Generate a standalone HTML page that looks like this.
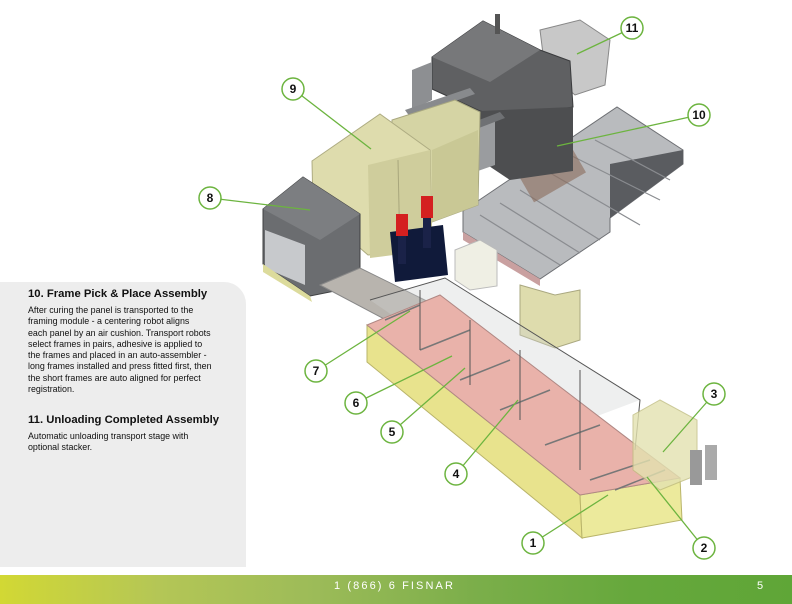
<!DOCTYPE html>
<html><head><meta charset="utf-8"><style>
html,body{margin:0;padding:0;background:#fff;width:792px;height:604px;overflow:hidden;font-family:"Liberation Sans",Arial,sans-serif}
#panel{position:absolute;left:0;top:282px;width:246px;height:285px;background:#ededed;border-top-right-radius:22px}
#panel h2{font-size:11.3px;font-weight:bold;color:#111;margin:0;position:absolute;left:28px;white-space:nowrap}
#panel p{font-size:8.9px;line-height:11.3px;color:#111;margin:0;position:absolute;left:28px;white-space:nowrap}
#footer{position:absolute;left:0;top:575px;width:792px;height:29px;background:linear-gradient(90deg,#d2d834 0%,#b4c656 20%,#9cbb58 40%,#7bae4a 60%,#66a83c 80%,#5fa637 100%)}
#footer span{position:absolute;color:#fff;font-size:11px;letter-spacing:2.1px;top:5px}
svg{position:absolute;left:0;top:0}
</style></head><body>
<svg width="792" height="604" viewBox="0 0 792 604">
<polygon points="463,211 617,107 683,150 683,164 610,218 610,232 540,279 463,232" fill="#b9bbbe" stroke="#6d6f73" stroke-width="1"/>
<polygon points="610,164 683,150 683,164 610,218" fill="#5a5c60"/>
<polygon points="463,232 540,279 540,286 463,240" fill="#c9a0a0"/>
<g stroke="#8a8c90" stroke-width="1.2">
<line x1="480" y1="215" x2="560" y2="265"/><line x1="500" y1="203" x2="580" y2="253"/><line x1="520" y1="190" x2="600" y2="240"/>
<line x1="545" y1="170" x2="640" y2="225"/><line x1="570" y1="155" x2="660" y2="200"/><line x1="595" y1="140" x2="670" y2="180"/>
</g>
<rect x="520" y="150" width="60" height="40" fill="#8a6a5a" opacity=".6" transform="rotate(-30 550 170)"/>
<polygon points="540,30 580,20 610,40 605,85 575,95 545,70" fill="#c8c8c8" stroke="#888"/>
<polygon points="432,57 483,21 540,50 570,61 573,107 510,118 480,111 432,89" fill="#5f6062" stroke="#3a3b3d"/>
<polygon points="432,57 483,21 540,50 490,82" fill="#77787a"/>
<polygon points="480,111 573,107 573,171 510,180 480,160" fill="#4d4e50"/>
<rect x="495" y="14" width="5" height="20" fill="#555"/>
<polygon points="412,70 432,62 432,100 412,110" fill="#8d8f92"/>
<polygon points="475,125 495,115 495,165 475,172" fill="#9a9c9f"/>
<polygon points="405,110 470,88 475,94 410,117" fill="#888a8d"/>
<polygon points="440,135 500,112 505,118 445,141" fill="#6f7174"/>
<polygon points="392,120 455,100 480,112 478,205 432,222 392,200" fill="#d5d4a4" stroke="#a9a880"/>
<polygon points="432,150 478,130 478,205 432,222" fill="#c9c895"/>
<polygon points="312,161 380,114 430,150 432,250 368,255 313,207" fill="#dedcad" stroke="#aeac82"/>
<polygon points="368,165 430,150 432,250 370,258" fill="#cfcd9c"/>
<line x1="398" y1="160" x2="400" y2="255" stroke="#a8a67c"/>
<polygon points="390,232 443,225 448,275 395,282" fill="#101a3a"/>
<rect x="396" y="214" width="12" height="22" fill="#d42020"/><rect x="421" y="196" width="12" height="22" fill="#d42020"/>
<rect x="398" y="236" width="8" height="28" fill="#1a2248"/><rect x="423" y="218" width="8" height="30" fill="#1a2248"/>
<polygon points="263,209 303,177 360,214 360,286 310,296 263,264" fill="#6b6d70" stroke="#3f4042"/>
<polygon points="263,209 303,177 360,214 320,240" fill="#7c7e81"/>
<polygon points="265,230 305,245 305,285 265,268" fill="#c7c9cc"/>
<polygon points="263,264 310,296 312,302 263,272" fill="#dcdb9c"/>
<polygon points="455,250 480,240 497,250 497,286 470,290 455,280" fill="#efefe4" stroke="#bbb"/>
<polygon points="320,285 360,268 445,310 405,330" fill="#b8b4ae" stroke="#888"/>
<polygon points="520,285 555,295 580,290 580,340 555,348 520,335" fill="#dedcad" stroke="#aaa880"/>
<polygon points="370,300 445,278 640,400 560,430" fill="#cdd2d0" opacity=".35"/>
<polygon points="367,325 580,495 582,538 367,362" fill="#e8e38d" stroke="#b9b46a"/>
<polygon points="580,495 680,478 682,520 582,538" fill="#ecea9c" stroke="#b9b46a"/>
<polygon points="367,325 440,295 640,448 680,478 580,495" fill="#e9b2aa" stroke="#b08884"/>
<g stroke="#777" stroke-width="1.5">
<line x1="385" y1="320" x2="420" y2="305"/><line x1="420" y1="350" x2="470" y2="330"/><line x1="460" y1="380" x2="510" y2="360"/>
<line x1="500" y1="410" x2="550" y2="390"/><line x1="545" y1="445" x2="600" y2="425"/><line x1="590" y1="480" x2="650" y2="460"/>
<line x1="615" y1="490" x2="665" y2="470"/>
</g>
<g stroke="#555" stroke-width="1" fill="none">
<polyline points="370,300 445,278 640,400 635,450"/>
<line x1="420" y1="290" x2="420" y2="350"/><line x1="470" y1="320" x2="470" y2="385"/><line x1="520" y1="350" x2="520" y2="420"/>
<line x1="580" y1="370" x2="580" y2="470"/>
</g>
<polygon points="633,415 660,400 697,420 697,475 660,490 633,470" fill="#e3e2b0" opacity=".8" stroke="#c0bd80"/>
<rect x="690" y="450" width="12" height="35" fill="#999"/><rect x="705" y="445" width="12" height="35" fill="#aaa"/>
<g stroke="#6cb43f" stroke-width="1.3">
<line x1="632" y1="28" x2="577" y2="54"/><line x1="293" y1="89" x2="371" y2="149"/><line x1="699" y1="115" x2="557" y2="146"/>
<line x1="210" y1="198" x2="310" y2="210"/><line x1="316" y1="371" x2="410" y2="311"/><line x1="356" y1="403" x2="452" y2="356"/>
<line x1="392" y1="432" x2="465" y2="368"/><line x1="456" y1="474" x2="518" y2="400"/><line x1="714" y1="394" x2="663" y2="452"/>
<line x1="533" y1="543" x2="608" y2="495"/><line x1="704" y1="548" x2="647" y2="477"/>
</g>
<g fill="#fff" stroke="#6cb43f" stroke-width="1.5">
<circle cx="632" cy="28" r="11"/><circle cx="293" cy="89" r="11"/><circle cx="699" cy="115" r="11"/><circle cx="210" cy="198" r="11"/>
<circle cx="316" cy="371" r="11"/><circle cx="356" cy="403" r="11"/><circle cx="392" cy="432" r="11"/><circle cx="456" cy="474" r="11"/>
<circle cx="714" cy="394" r="11"/><circle cx="533" cy="543" r="11"/><circle cx="704" cy="548" r="11"/>
</g>
<g font-family="Liberation Sans,Arial,sans-serif" font-size="12" font-weight="bold" fill="#111" text-anchor="middle">
<text x="632" y="32">11</text><text x="293" y="93">9</text><text x="699" y="119">10</text><text x="210" y="202">8</text>
<text x="316" y="375">7</text><text x="356" y="407">6</text><text x="392" y="436">5</text><text x="456" y="478">4</text>
<text x="714" y="398">3</text><text x="533" y="547">1</text><text x="704" y="552">2</text>
</g>
</svg>
<div id="panel">
<h2 style="top:6px">10. Frame Pick &amp; Place Assembly</h2>
<p style="top:23px">After curing the panel is transported to the<br>framing module - a centering robot aligns<br>each panel by an air cushion. Transport robots<br>select frames in pairs, adhesive is applied to<br>the frames and placed in an auto-assembler -<br>long frames installed and press fitted first, then<br>the short frames are auto aligned for perfect<br>registration.</p>
<h2 style="top:132px">11. Unloading Completed Assembly</h2>
<p style="top:149px">Automatic unloading transport stage with<br>optional stacker.</p>
</div>
<div id="footer"><span style="left:334px">1 (866) 6 FISNAR</span><span style="left:757px">5</span></div>
</body></html>
